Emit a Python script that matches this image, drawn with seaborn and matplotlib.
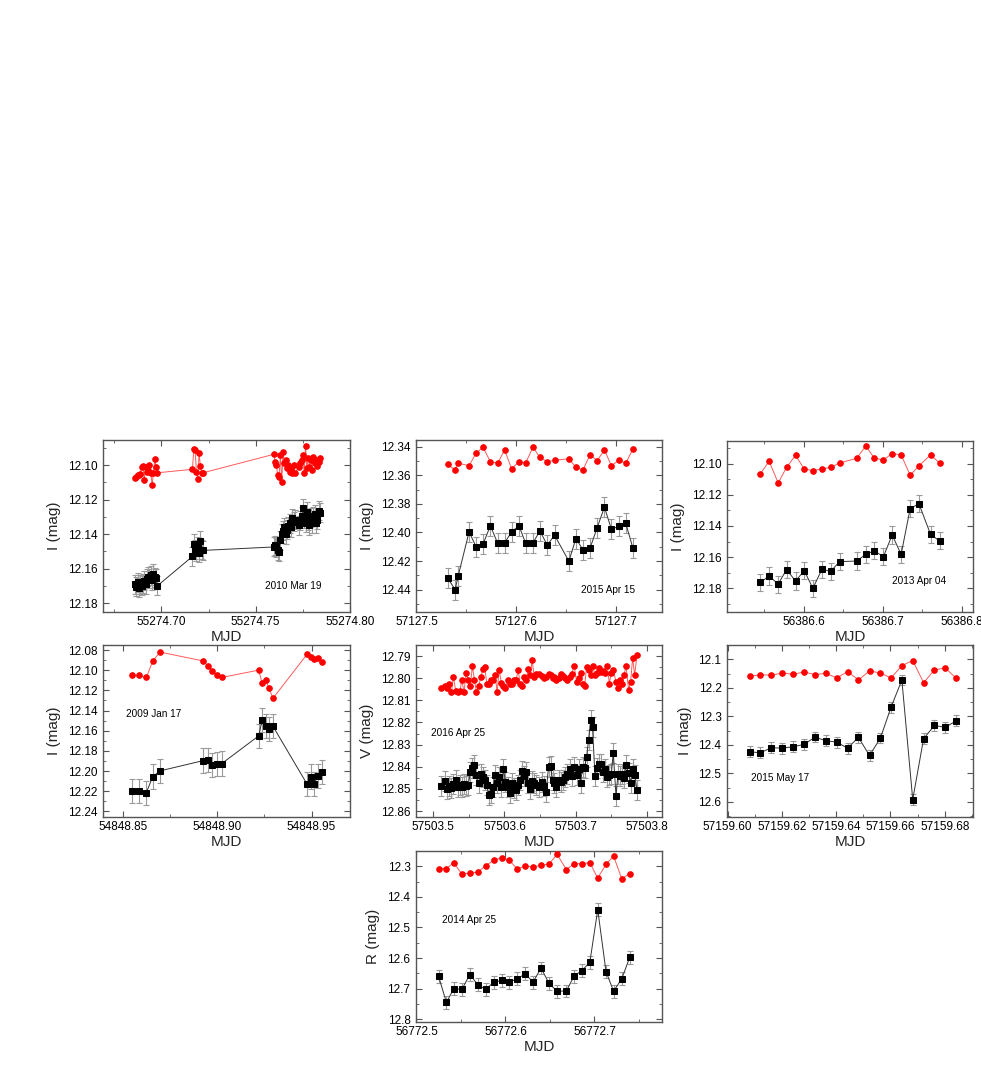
import numpy as np
import pandas as pd
import seaborn as sns
import matplotlib
matplotlib.use("Agg")
import matplotlib.pyplot as plt
from matplotlib.ticker import MultipleLocator, FormatStrFormatter

# ---------------- data ----------------
# Panel 1: 2010 Mar 19 (I band)
p1_mjd = [55274.68596, 55274.68667, 55274.68737, 55274.68807, 55274.68877, 55274.68947,
          55274.69018, 55274.69088, 55274.69158, 55274.69228, 55274.69298, 55274.69368,
          55274.69439, 55274.69509, 55274.69579, 55274.69649, 55274.69719, 55274.69789,
          55274.71649, 55274.71719, 55274.71789, 55274.71860, 55274.71930, 55274.72000,
          55274.72070, 55274.72140, 55274.72210,
          55274.75965, 55274.76035, 55274.76105, 55274.76175, 55274.76246, 55274.76316,
          55274.76386, 55274.76456, 55274.76526, 55274.76596, 55274.76667, 55274.76737,
          55274.76807, 55274.76877, 55274.76947, 55274.77018, 55274.77088, 55274.77298,
          55274.77368, 55274.77439, 55274.77509, 55274.77579, 55274.77649, 55274.77719,
          55274.77789, 55274.77860, 55274.77930, 55274.78000, 55274.78070, 55274.78140,
          55274.78211, 55274.78281, 55274.78351, 55274.78421]
p1_comp = [12.1074, 12.1068, 12.1060, 12.1056, 12.1054, 12.1010, 12.1006, 12.1087, 12.1014,
           12.1039, 12.1029, 12.1002, 12.1048, 12.1116, 12.1045, 12.0967, 12.1010, 12.1045,
           12.1025, 12.0909, 12.0913, 12.1039, 12.1083, 12.0932, 12.1006, 12.1045, 12.1045,
           12.0938, 12.0981, 12.1000, 12.1058, 12.1068, 12.0942, 12.1097, 12.0923, 12.0986,
           12.0971, 12.1019, 12.1000, 12.1039, 12.1025, 12.1048, 12.1000, 12.1048, 12.1010,
           12.0990, 12.0971, 12.0942, 12.1048, 12.0890, 12.1019, 12.0961, 12.1010, 12.0971,
           12.1029, 12.0952, 12.0990, 12.0971, 12.1006, 12.0981, 12.0961]
p1_obj = [12.1690, 12.1705, 12.1680, 12.1712, 12.1695, 12.1700, 12.1685, 12.1672, 12.1690,
          12.1660, 12.1648, 12.1655, 12.1640, 12.1668, 12.1630, 12.1650, 12.1655, 12.1700,
          12.1530, 12.1455, 12.1490, 12.1500, 12.1470, 12.1510, 12.1440, 12.1490, 12.1495,
          12.1475, 12.1465, 12.1478, 12.1494, 12.1504, 12.1436, 12.1397, 12.1382, 12.1362,
          12.1401, 12.1374, 12.1354, 12.1339, 12.1362, 12.1310, 12.1329, 12.1316, 12.1349,
          12.1320, 12.1296, 12.1252, 12.1310, 12.1335, 12.1271, 12.1320, 12.1349, 12.1304,
          12.1339, 12.1296, 12.1285, 12.1339, 12.1316, 12.1265, 12.1277]
p1_err = 0.0055

# Panel 2: 2015 Apr 15 (I band)
p2_mjd = [57127.5313, 57127.5387, 57127.5417, 57127.5527, 57127.5597, 57127.5667, 57127.5740,
          57127.5813, 57127.5883, 57127.5953, 57127.6027, 57127.6093, 57127.6167, 57127.6237,
          57127.6310, 57127.6383, 57127.6527, 57127.6597, 57127.6667, 57127.6740, 57127.6810,
          57127.6883, 57127.6953, 57127.7027, 57127.7097, 57127.7167]
p2_comp = [12.3524, 12.3564, 12.3515, 12.3533, 12.3444, 12.3404, 12.3505, 12.3515, 12.3423,
           12.3554, 12.3505, 12.3515, 12.3404, 12.3474, 12.3505, 12.3495, 12.3484, 12.3544,
           12.3563, 12.3456, 12.3498, 12.3423, 12.3533, 12.3495, 12.3515, 12.3418]
p2_obj = [12.4320, 12.4400, 12.4307, 12.3996, 12.4100, 12.4082, 12.3953, 12.4075, 12.4073,
          12.3996, 12.3953, 12.4075, 12.4073, 12.3989, 12.4089, 12.4019, 12.4201, 12.4043,
          12.4120, 12.4108, 12.3968, 12.3823, 12.3977, 12.3958, 12.3937, 12.4106]
p2_err = 0.007

# Panel 3: 2013 Apr 04 (I band)
p3_mjd = [56386.5449, 56386.5559, 56386.5674, 56386.5780, 56386.5894, 56386.6004, 56386.6114,
          56386.6229, 56386.6339, 56386.6453, 56386.6669, 56386.6784, 56386.6894, 56386.7008,
          56386.7119, 56386.7233, 56386.7347, 56386.7458, 56386.7606, 56386.7720]
p3_comp = [12.1064, 12.0985, 12.1124, 12.1024, 12.0947, 12.1034, 12.1045, 12.1034, 12.1024,
           12.0996, 12.0966, 12.0887, 12.0966, 12.0976, 12.0936, 12.0944, 12.1074, 12.1015,
           12.0944, 12.0996]
p3_obj = [12.1762, 12.1721, 12.1773, 12.1680, 12.1753, 12.1687, 12.1800, 12.1678, 12.1691,
          12.1629, 12.1625, 12.1582, 12.1560, 12.1597, 12.1458, 12.1582, 12.1289, 12.1257,
          12.1454, 12.1496]
p3_err = 0.0055

# Panel 4: 2009 Jan 17 (I band)
p4_mjd = [54848.8550, 54848.8587, 54848.8624, 54848.8658, 54848.8696, 54848.8927, 54848.8950,
          54848.8974, 54848.8999, 54848.9024, 54848.9220, 54848.9238, 54848.9256, 54848.9275,
          54848.9295, 54848.9477, 54848.9496, 54848.9514, 54848.9534, 54848.9553]
p4_comp = [12.1052, 12.1052, 12.1072, 12.0909, 12.0820, 12.0909, 12.0959, 12.1009, 12.1048,
           12.1072, 12.0999, 12.1131, 12.1098, 12.1181, 12.1280, 12.0840, 12.0870, 12.0893,
           12.0879, 12.0919]
p4_obj = [12.2201, 12.2201, 12.2214, 12.2055, 12.1999, 12.1896, 12.1893, 12.1943, 12.1933,
          12.1926, 12.1651, 12.1496, 12.1552, 12.1585, 12.1555, 12.2132, 12.2055, 12.2125,
          12.2049, 12.2009]
p4_err = 0.012

# Panel 5: 2016 Apr 25 (V band)
p5_mjd = [57503.5108, 57503.5165, 57503.5197, 57503.5225, 57503.5254, 57503.5282, 57503.5315,
          57503.5348, 57503.5376, 57503.5400, 57503.5432, 57503.5461, 57503.5489, 57503.5521,
          57503.5549, 57503.5577, 57503.5606, 57503.5639, 57503.5668, 57503.5696, 57503.5724,
          57503.5752, 57503.5780, 57503.5808, 57503.5837, 57503.5869, 57503.5897, 57503.5925,
          57503.5958, 57503.5986, 57503.6014, 57503.6048, 57503.6080, 57503.6108, 57503.6137,
          57503.6165, 57503.6193, 57503.6221, 57503.6249, 57503.6277, 57503.6306, 57503.6334,
          57503.6362, 57503.6390, 57503.6418, 57503.6446,
          57503.6489, 57503.6527, 57503.6559, 57503.6587, 57503.6620, 57503.6648, 57503.6676,
          57503.6704, 57503.6732, 57503.6761, 57503.6794, 57503.6822, 57503.6855, 57503.6883,
          57503.6915, 57503.6944, 57503.6982, 57503.7014, 57503.7042, 57503.7070, 57503.7099,
          57503.7127, 57503.7155, 57503.7183, 57503.7211, 57503.7239, 57503.7273, 57503.7301,
          57503.7334, 57503.7362, 57503.7390, 57503.7418, 57503.7446, 57503.7475, 57503.7503,
          57503.7531, 57503.7569, 57503.7597, 57503.7625, 57503.7654, 57503.7682, 57503.7710,
          57503.7746, 57503.7775, 57503.7803, 57503.7831, 57503.7865]
p5_comp = [12.8043, 12.8036, 12.8043, 12.8027, 12.8064, 12.7994, 12.8057, 12.8064, 12.8057,
           12.8006, 12.8064, 12.7975, 12.8006, 12.8036, 12.7944, 12.8006, 12.8064, 12.8036,
           12.7994, 12.7959, 12.7951, 12.8027, 12.8027, 12.8006, 12.8006, 12.7986, 12.8064,
           12.7963, 12.8021, 12.8036, 12.8043, 12.8006, 12.8027, 12.8024, 12.8006, 12.8006,
           12.7963, 12.8027, 12.8036, 12.7994, 12.8006, 12.7959, 12.7986, 12.7918, 12.7994,
           12.7981,
           12.7981, 12.7990, 12.8001, 12.7994, 12.7981, 12.7986, 12.8001, 12.7994, 12.8006,
           12.7997, 12.7981, 12.7990, 12.8001, 12.8006, 12.7994, 12.7981, 12.7944, 12.8016,
           12.8001, 12.7975, 12.8024, 12.8036, 12.7951, 12.7963, 12.7986, 12.7944, 12.7986,
           12.7978, 12.7956, 12.7971, 12.7966, 12.7978, 12.7944, 12.8024, 12.7975, 12.7963,
           12.8016, 12.8043, 12.8006, 12.8024, 12.7986, 12.7944, 12.8054, 12.8016, 12.7908,
           12.7986, 12.7895]
p5_obj = [12.8488, 12.8464, 12.8499, 12.8488, 12.8494, 12.8476, 12.8458, 12.8491, 12.8484,
          12.8491, 12.8476, 12.8488, 12.8484, 12.8425, 12.8404, 12.8393, 12.8438, 12.8473,
          12.8431, 12.8446, 12.8458, 12.8484, 12.8529, 12.8521, 12.8491, 12.8438, 12.8473,
          12.8446, 12.8491, 12.8408, 12.8469, 12.8491, 12.8518, 12.8473, 12.8494, 12.8503,
          12.8484, 12.8461, 12.8419, 12.8443, 12.8423, 12.8473, 12.8499, 12.8464, 12.8473,
          12.8484,
          12.8491, 12.8469, 12.8488, 12.8514, 12.8401, 12.8398, 12.8461, 12.8473, 12.8491,
          12.8461, 12.8469, 12.8458, 12.8446, 12.8431, 12.8408, 12.8443, 12.8401, 12.8438,
          12.8408, 12.8473, 12.8401, 12.8404, 12.8356, 12.8280, 12.8190, 12.8220, 12.8443,
          12.8404, 12.8386, 12.8389, 12.8423, 12.8408, 12.8446, 12.8438, 12.8431, 12.8337,
          12.8533, 12.8431, 12.8443, 12.8431, 12.8449, 12.8393, 12.8428, 12.8473, 12.8408,
          12.8438, 12.8506]
p5_err = 0.0045

# Panel 6: 2015 May 17 (I band)
p6_mjd = [57159.6082, 57159.6121, 57159.6161, 57159.6202, 57159.6241, 57159.6282, 57159.6322,
          57159.6362, 57159.6402, 57159.6442, 57159.6482, 57159.6523, 57159.6563, 57159.6602,
          57159.6642, 57159.6682, 57159.6722, 57159.6762, 57159.6802, 57159.6842]
p6_comp = [12.1597, 12.1539, 12.1562, 12.1480, 12.1527, 12.1445, 12.1539, 12.1492, 12.1656,
           12.1433, 12.1726, 12.1410, 12.1480, 12.1656, 12.1222, 12.1047, 12.1820, 12.1375,
           12.1304, 12.1667]
p6_obj = [12.4244, 12.4279, 12.4103, 12.4115, 12.4068, 12.3986, 12.3728, 12.3857, 12.3904,
          12.4115, 12.3740, 12.4373, 12.3763, 12.2686, 12.1726, 12.5918, 12.3787, 12.3319,
          12.3389, 12.3155]
p6_err = 0.019

# Panel 7: 2014 Apr 25 (R band)
p7_mjd = [56772.5248, 56772.5337, 56772.5419, 56772.5511, 56772.5600, 56772.5689, 56772.5778,
          56772.5870, 56772.5963, 56772.6044, 56772.6133, 56772.6222, 56772.6311, 56772.6400,
          56772.6489, 56772.6581, 56772.6685, 56772.6770, 56772.6859, 56772.6948, 56772.7037,
          56772.7130, 56772.7215, 56772.7307, 56772.7396]
p7_comp = [12.3075, 12.3075, 12.2882, 12.3258, 12.3215, 12.3194, 12.2978, 12.2806, 12.2720,
           12.2806, 12.3086, 12.2989, 12.3022, 12.2968, 12.2925, 12.2613, 12.3108, 12.2914,
           12.2914, 12.2882, 12.3387, 12.2935, 12.2667, 12.3409, 12.3237]
p7_obj = [12.6591, 12.7452, 12.7000, 12.7022, 12.6538, 12.6871, 12.7022, 12.6785, 12.6731,
          12.6785, 12.6677, 12.6516, 12.6785, 12.6323, 12.6828, 12.7086, 12.7075, 12.6591,
          12.6409, 12.6140, 12.4419, 12.6441, 12.7086, 12.6677, 12.5978]
p7_err = 0.021

dates = ["2010 Mar 19", "2015 Apr 15", "2013 Apr 04", "2009 Jan 17",
         "2016 Apr 25", "2015 May 17", "2014 Apr 25"]
ylabels = ["I (mag)", "I (mag)", "I (mag)", "I (mag)", "V (mag)", "I (mag)", "R (mag)"]

# ---------------- style ----------------
sns.set_theme(style="ticks")
plt.rcParams["font.family"] = ["Liberation Sans", "DejaVu Sans"]
plt.rcParams.update({
    "xtick.direction": "in", "ytick.direction": "in",
    "xtick.top": True, "ytick.right": True,
    "xtick.major.size": 4, "ytick.major.size": 4,
    "xtick.minor.size": 2, "ytick.minor.size": 2,
    "xtick.major.width": 0.8, "ytick.major.width": 0.8,
    "xtick.minor.width": 0.6, "ytick.minor.width": 0.6,
    "xtick.major.pad": 3, "ytick.major.pad": 4,
    "axes.edgecolor": "#555555", "axes.linewidth": 1.0,
    "xtick.color": "#555555", "ytick.color": "#555555",
    "xtick.labelcolor": "black", "ytick.labelcolor": "black",
})

W, H = 981, 1090
fig = plt.figure(figsize=(W / 100, H / 100), dpi=100)

def rect(x0, y0, w, h):
    return [x0 / W, 1 - (y0 + h) / H, w / W, h / H]

panels = [
    dict(mjd=p1_mjd, comp=p1_comp, obj=p1_obj, err=p1_err, r=rect(103, 440, 247, 172),
         xlim=(55274.669, 55274.8001), ylim=(12.1852, 12.0855), xmaj=0.05, xfmt="%.2f",
         ymaj=0.02, yfmt="%.2f", txt=(0.656, 0.15)),
    dict(mjd=p2_mjd, comp=p2_comp, obj=p2_obj, err=p2_err, r=rect(416, 440, 246, 172),
         xlim=(57127.4995, 57127.746), ylim=(12.4557, 12.3353), xmaj=0.1, xfmt="%.1f",
         ymaj=0.02, yfmt="%.2f", txt=(0.67, 0.13)),
    dict(mjd=p3_mjd, comp=p3_comp, obj=p3_obj, err=p3_err, r=rect(727, 441, 246, 171),
         xlim=(56386.5025, 56386.8144), ylim=(12.1952, 12.0855), xmaj=0.1, xfmt="%.1f",
         ymaj=0.02, yfmt="%.2f", txt=(0.67, 0.18)),
    dict(mjd=p4_mjd, comp=p4_comp, obj=p4_obj, err=p4_err, r=rect(103, 645, 247, 172),
         xlim=(54848.8394, 54848.9704), ylim=(12.2456, 12.075), xmaj=0.05, xfmt="%.2f",
         ymaj=0.02, yfmt="%.2f", txt=(0.093, 0.597)),
    dict(mjd=p5_mjd, comp=p5_comp, obj=p5_obj, err=p5_err, r=rect(416, 645, 246, 172),
         xlim=(57503.4756, 57503.8216), ylim=(12.8627, 12.785), xmaj=0.1, xfmt="%.1f",
         ymaj=0.01, yfmt="%.2f", txt=(0.06, 0.49)),
    dict(mjd=p6_mjd, comp=p6_comp, obj=p6_obj, err=p6_err, r=rect(727, 645, 246, 172),
         xlim=(57159.5998, 57159.6904), ylim=(12.653, 12.05), xmaj=0.02, xfmt="%.2f",
         ymaj=0.1, yfmt="%.1f", txt=(0.098, 0.228)),
    dict(mjd=p7_mjd, comp=p7_comp, obj=p7_obj, err=p7_err, r=rect(416, 851, 246, 171),
         xlim=(56772.4995, 56772.7759), ylim=(12.809, 12.25), xmaj=0.1, xfmt="%.1f",
         ymaj=0.1, yfmt="%.1f", txt=(0.104, 0.596)),
]

for i, p in enumerate(panels):
    ax = fig.add_axes(p["r"])
    df = pd.DataFrame({"MJD": p["mjd"], "comp": p["comp"], "obj": p["obj"]})
    ax.errorbar(df["MJD"], df["obj"], yerr=p["err"], fmt="none", ecolor="#9a9a9a",
                elinewidth=0.8, capsize=2.0, capthick=0.8, zorder=2)
    sns.lineplot(data=df, x="MJD", y="obj", ax=ax, color="#333333", lw=0.7,
                 marker="s", markersize=3.8, markerfacecolor="black",
                 markeredgecolor="black", estimator=None, sort=False, zorder=3)
    sns.lineplot(data=df, x="MJD", y="comp", ax=ax, color="#ff5a5a", lw=0.7,
                 marker="o", markersize=4.0, markerfacecolor="red",
                 markeredgecolor="red", estimator=None, sort=False, zorder=3)
    ax.set_xlim(*p["xlim"])
    ax.set_ylim(*p["ylim"])
    ax.xaxis.set_major_locator(MultipleLocator(p["xmaj"]))
    ax.xaxis.set_minor_locator(MultipleLocator(p["xmaj"] / 2))
    ax.yaxis.set_major_locator(MultipleLocator(p["ymaj"]))
    ax.yaxis.set_minor_locator(MultipleLocator(p["ymaj"] / 2))
    ax.xaxis.set_major_formatter(FormatStrFormatter(p["xfmt"]))
    ax.yaxis.set_major_formatter(FormatStrFormatter(p["yfmt"]))
    ax.tick_params(which="both", top=True, right=True, labelsize=8.5)
    ax.set_xlabel("MJD", fontsize=11, labelpad=1)
    ax.set_ylabel(ylabels[i], fontsize=11, labelpad=5)
    ax.text(p["txt"][0], p["txt"][1], dates[i], transform=ax.transAxes,
            fontsize=7.2, ha="left", va="center", color="black")

fig.savefig("out.png", dpi=100)
